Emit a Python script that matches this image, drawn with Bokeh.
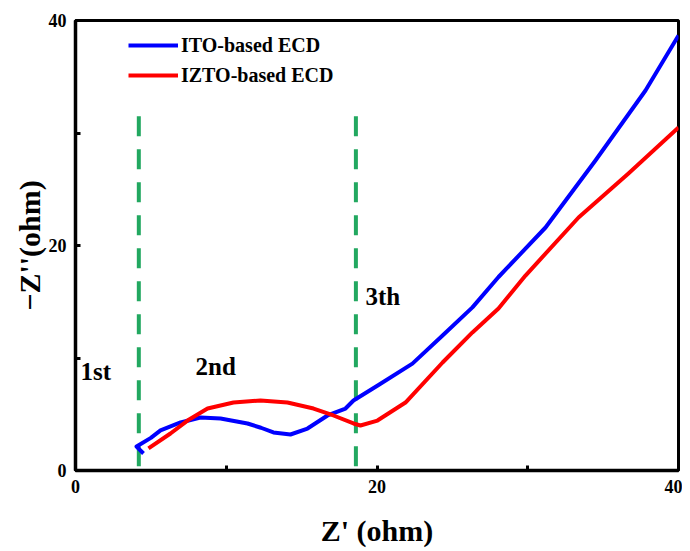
from bokeh.plotting import figure
from bokeh.models import Range1d, FixedTicker, Label, Legend, LegendItem
from bokeh.embed import file_html
from bokeh.resources import INLINE

# ---- data ----
ito_x = [4.51, 4.05, 5.0, 5.64, 6.97, 8.29, 9.62, 11.41, 12.3, 13.13, 14.26, 15.39, 16.72, 17.91,
         18.44, 20.1, 22.35, 24.35, 26.33, 28.06, 31.18, 34.49, 37.81, 40.0]
ito_y = [1.51, 2.13, 2.9, 3.56, 4.27, 4.71, 4.62, 4.18, 3.8, 3.38, 3.2, 3.73, 4.89, 5.51,
         6.22, 7.6, 9.5, 12.0, 14.5, 17.2, 21.6, 27.56, 33.78, 38.67]

izto_x = [4.84, 6.3, 7.43, 8.76, 10.48, 12.27, 14.06, 15.79, 17.11, 18.44, 18.9, 20.03,
          21.89, 24.35, 26.33, 28.06, 29.85, 33.37, 36.68, 40.0]
izto_y = [1.96, 3.29, 4.44, 5.51, 6.04, 6.22, 6.04, 5.51, 4.89, 4.18, 4.0, 4.44,
          6.04, 9.6, 12.27, 14.4, 17.33, 22.49, 26.4, 30.49]

boundary_x = [4.2, 18.6]
boundary_top = [31.5, 31.5]
boundary_bottom = [0, 0]

region_labels = ["1st", "2nd", "3th"]
region_x = [0.33, 7.96, 19.24]
region_y = [8.8, 9.24, 15.47]

series_names = ["ITO-based ECD", "IZTO-based ECD"]
tick_values = [0, 10, 20, 30, 40]
tick_labels = {10: "", 30: ""}

FONT = "Liberation Serif"

p = figure(width=682, height=551, output_backend="svg", toolbar_location=None,
           x_range=Range1d(0, 40), y_range=Range1d(0, 40),
           min_border_left=75, min_border_right=4, min_border_top=20, min_border_bottom=81)

p.grid.visible = False
p.outline_line_color = "black"
p.outline_line_width = 3
p.background_fill_color = "white"

for ax in (p.xaxis[0], p.yaxis[0]):
    ax.ticker = FixedTicker(ticks=tick_values)
    ax.major_label_overrides = tick_labels
    ax.axis_line_width = 3.5
    ax.axis_line_color = "black"
    ax.major_tick_in = 5
    ax.major_tick_out = 0
    ax.major_tick_line_width = 3
    ax.major_tick_line_color = "black"
    ax.minor_tick_line_color = None
    ax.major_label_text_font = FONT
    ax.major_label_text_font_style = "bold"
    ax.major_label_text_font_size = "18px"
    ax.major_label_text_color = "black"
    ax.axis_label_text_font = FONT
    ax.axis_label_text_font_style = "bold"
    ax.axis_label_text_font_size = "30px"
    ax.axis_label_text_color = "black"
    ax.major_label_standoff = 9

p.xaxis.axis_label = "Z' (ohm)"
p.yaxis.axis_label = "\u2212Z''(ohm)"
p.xaxis.axis_label_text_line_height = 1.0
p.xaxis.axis_label_standoff = 18
p.yaxis.axis_label_standoff = 0

# boundaries
p.segment(x0=boundary_x, y0=boundary_top, x1=boundary_x, y1=boundary_bottom,
          line_color="#22a860", line_width=4, line_dash="20 13")

r1 = p.line(ito_x, ito_y, line_color="#0000ff", line_width=4, line_join="round")
r2 = p.line(izto_x, izto_y, line_color="#ff0000", line_width=4, line_join="round")

for t, x, y in zip(region_labels, region_x, region_y):
    p.add_layout(Label(x=x, y=y, text=t, text_font=FONT, text_font_style="bold",
                       text_font_size="25px", text_baseline="alphabetic", text_color="black"))

legend = Legend(items=[LegendItem(label=series_names[0], renderers=[r1]),
                       LegendItem(label=series_names[1], renderers=[r2])],
                location=(53, 380), orientation="vertical",
                glyph_width=50, glyph_height=30, label_height=30, spacing=0,
                padding=0, margin=0, label_standoff=3,
                label_text_font=FONT, label_text_font_style="bold",
                label_text_font_size="20px", label_text_color="black",
                border_line_alpha=0, background_fill_alpha=0)
p.add_layout(legend)

open("out.html", "w").write(file_html(p, INLINE))
